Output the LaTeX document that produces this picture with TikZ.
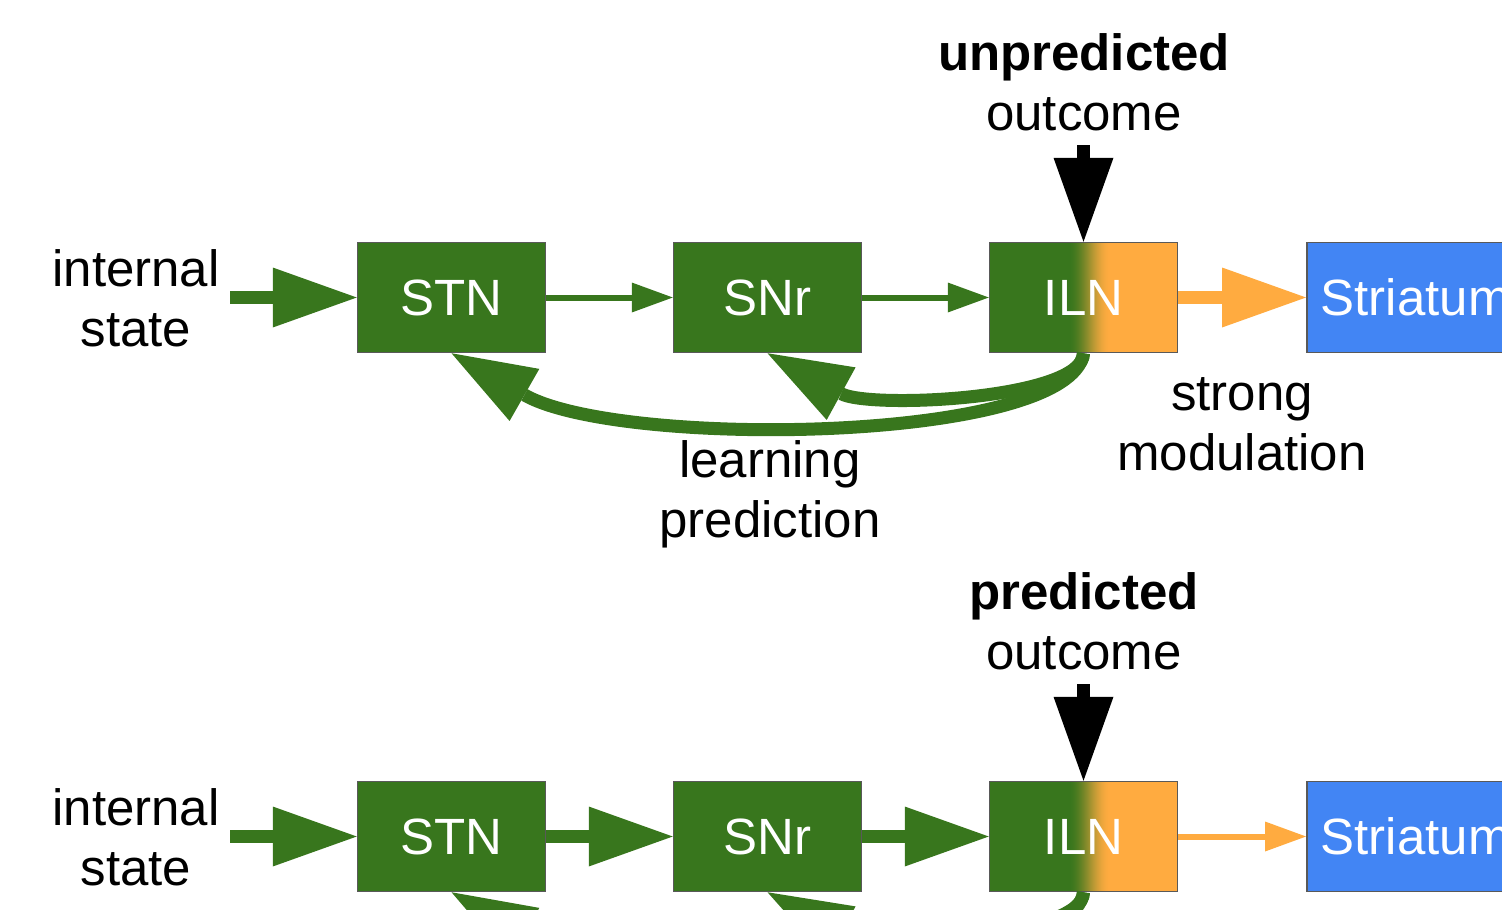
\documentclass[tikz,border=0pt]{standalone}
\usepackage{fontspec}
\setmainfont{Liberation Sans}
\usetikzlibrary{arrows.meta}
\definecolor{cgreen}{HTML}{38761D}
\definecolor{corange}{HTML}{FFAB40}
\definecolor{cblue}{HTML}{4285F4}
\definecolor{cborder}{HTML}{595959}
\begin{document}
\begin{tikzpicture}[x=1pt,y=-1pt,
  every node/.style={font=\fontsize{51}{60}\selectfont},
  blk/.style={draw=cborder, line width=1.5pt, minimum width=188pt, minimum height=110pt,
    inner sep=0pt, text=white, fill=cgreen},
  ilnbox/.style={blk, path picture={
    \fill[corange]
      ([xshift=120pt]path picture bounding box.north west) rectangle
      (path picture bounding box.south east);
    \foreach \i in {0,...,42}{
      \pgfmathsetmacro\pct{100-100*(3*(\i/42)^2-2*(\i/42)^3)}
      \fill[cgreen!\pct!corange]
        ([xshift={(78+\i)*1pt}]path picture bounding box.north west) rectangle
        ([xshift={(79.6+\i)*1pt}]path picture bounding box.south west);}}},
  strbox/.style={draw=cborder, line width=1.5pt, fill=cblue, text=white, anchor=west,
    minimum height=110pt, text width=230pt, align=left, inner xsep=14pt, inner ysep=0pt},
  lbl/.style={align=center, inner sep=0pt},
  bigarr/.style={line width=13pt, -{Triangle[length=84pt,width=60pt,line width=0pt]}},
  smallarr/.style={line width=6pt, -{Triangle[length=41pt,width=30pt,line width=0pt]}},
]
\useasboundingbox (0,0) rectangle (1502,910);
\clip (0,0) rectangle (1502,910);

% ---------- top row ----------
\node[blk] (STN1) at (451.5,297.5) {STN};
\node[blk] (SNr1) at (767.5,297.5) {SNr};
\node[ilnbox] (ILN1) at (1083.5,297.5) {ILN};
\node[strbox] (Str1) at (1306,297.5) {Striatum};

\node[lbl] (is1) at (136,298) {internal\\state};
\node[lbl] (out1) at (1084,82) {\textbf{unpredicted}\\outcome};
\node[lbl] (mod1) at (1242,424) {strong\\modulation};
\node[lbl] (lp1) at (770,494) {learning\\prediction};

\coordinate (in1) at (230,297.5);
\coordinate (o1) at (1083.5,145);

\draw[cgreen, bigarr] (in1) -- (STN1.west);
\draw[cgreen, smallarr] (STN1.east) -- (SNr1.west);
\draw[cgreen, smallarr] (SNr1.east) -- (ILN1.west);
\draw[corange, bigarr] (ILN1.east) -- (Str1.west);
\draw[black, bigarr] (o1) -- (ILN1.north);

\draw[cgreen, bigarr] (ILN1.south) .. controls +(-13,90) and +(168,96) .. (STN1.south);
\draw[cgreen, bigarr] (ILN1.south) .. controls +(0,46) and +(102,56) .. (SNr1.south);

% ---------- bottom row ----------
\node[blk] (STN2) at (451.5,836.5) {STN};
\node[blk] (SNr2) at (767.5,836.5) {SNr};
\node[ilnbox] (ILN2) at (1083.5,836.5) {ILN};
\node[strbox] (Str2) at (1306,836.5) {Striatum};

\node[lbl] (is2) at (136,837) {internal\\state};
\node[lbl] (out2) at (1084,621) {\textbf{predicted}\\outcome};

\coordinate (in2) at (230,836.5);
\coordinate (o2) at (1083.5,684);

\draw[cgreen, bigarr] (in2) -- (STN2.west);
\draw[cgreen, bigarr] (STN2.east) -- (SNr2.west);
\draw[cgreen, bigarr] (SNr2.east) -- (ILN2.west);
\draw[corange, smallarr] (ILN2.east) -- (Str2.west);
\draw[black, bigarr] (o2) -- (ILN2.north);

\draw[cgreen, bigarr] (ILN2.south) .. controls +(-13,90) and +(168,96) .. (STN2.south);
\draw[cgreen, bigarr] (ILN2.south) .. controls +(0,46) and +(102,56) .. (SNr2.south);
\end{tikzpicture}
\end{document}
